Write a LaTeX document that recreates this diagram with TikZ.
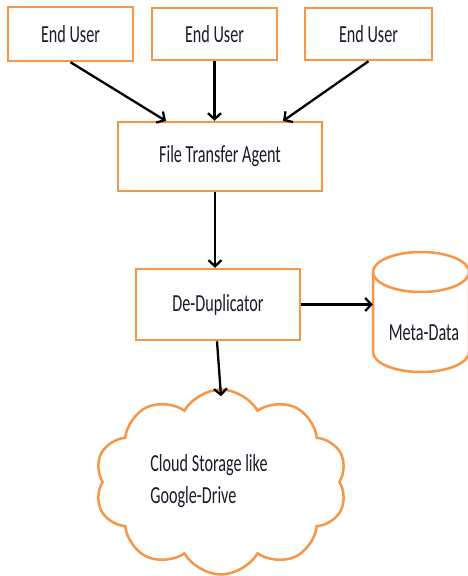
\documentclass[tikz,border=0pt]{standalone}
\usepackage{fontspec}
\setmainfont[FakeStretch=0.66]{Carlito}
\usetikzlibrary{shapes.symbols,arrows.meta}
\definecolor{boxorange}{HTML}{F79646}
\definecolor{txt}{HTML}{1B1B2A}
\begin{document}
\begin{tikzpicture}[x=1pt,y=1pt,
  lbl/.style={font=\fontsize{24.5}{32}\selectfont,text=txt,inner sep=0pt},
  box/.style={lbl,draw=boxorange,line width=2.5pt,fill=white},
  shp/.style={draw=boxorange,line width=2.5pt,fill=white},
  arr/.style={line width=2.3pt,-{Straight Barb[length=6pt,width=13pt,line width=2.3pt]}}]
\useasboundingbox (0,0) rectangle (467,-576);
% end users
\node[box,minimum width=125,minimum height=54] (u1) at (70.5,-34) {End User};
\node[box,minimum width=125,minimum height=52] (u2) at (214.5,-34) {End User};
\node[box,minimum width=127,minimum height=52] (u3) at (368.5,-34) {End User};
% file transfer agent
\node[box,minimum width=204,minimum height=69] (fta) at (220,-156.5) {File Transfer Agent};
% de-duplicator
\node[box,minimum width=164,minimum height=71] (dd) at (218,-304.5) {De-Duplicator};
% meta-data cylinder
\draw[shp] (373,-272) -- (373,-352) arc[start angle=180,end angle=360,x radius=48,y radius=20] -- (469,-272);
\draw[shp] (421,-272) ellipse [x radius=48,y radius=20];
\node[inner sep=0pt,minimum width=96,minimum height=120] (meta) at (421,-312) {};
\node[lbl] (metatxt) at (424,-333) {Meta-Data};
% cloud
\node[shp,cloud,cloud puffs=10,cloud puff arc=120,aspect=1.36,minimum width=252,minimum height=185,inner sep=0pt] (cloud) at (221,-482) {};
\node[lbl,align=left] (cloudtxt) at (209,-481) {Cloud Storage like\\Google-Drive};
% connectors
\coordinate (f1) at (166,-121);
\coordinate (f3) at (283,-121);
\draw[arr] (u1.south) -- (f1);
\draw[arr] (u2.south) -- (fta.north -| u2.south);
\draw[arr] (u3.south) -- (f3);
\draw[arr] (fta.south -| 215,0) -- (dd.north -| 215,0);
\draw[arr] (dd.east) -- (dd.east -| meta.west);
\draw[arr] ([xshift=-1pt]dd.south) -- ([yshift=-8pt]cloud.north);
\end{tikzpicture}
\end{document}
